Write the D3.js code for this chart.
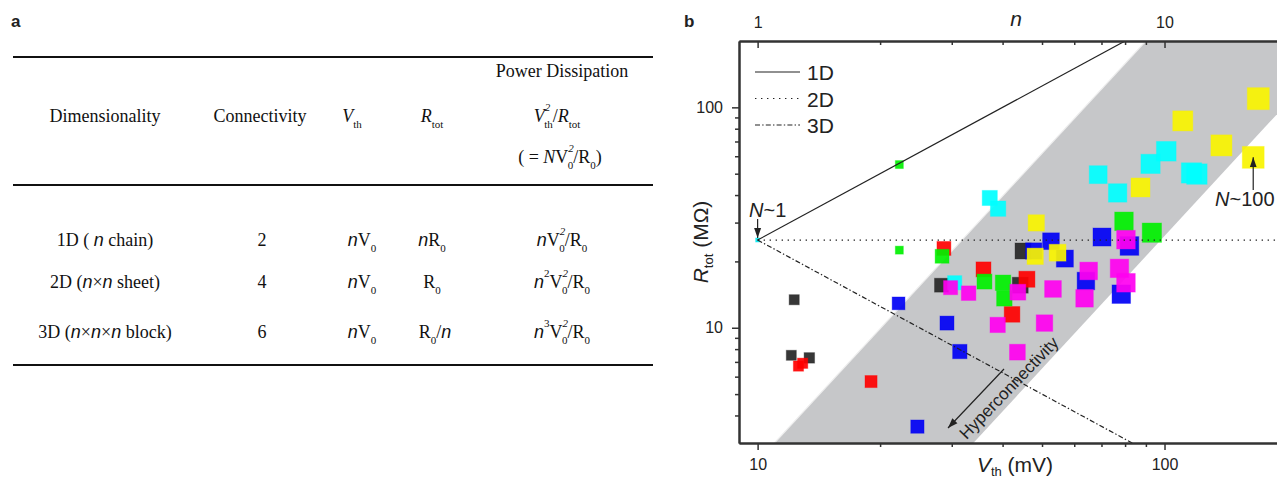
<!DOCTYPE html>
<html>
<head>
<meta charset="utf-8">
<script src="https://cdn.jsdelivr.net/npm/d3@7"></script>
<style>
  body { margin: 0; background: #fff; }
  svg { display: block; }
  .tbl text { font-family: "Liberation Serif", "Times New Roman", serif; font-size: 18px; fill: #111; }
  .ax text { font-family: "Liberation Sans", Arial, sans-serif; font-size: 16px; fill: #222; }
  .lbl { font-family: "Liberation Sans", Arial, sans-serif; fill: #222; }
</style>
</head>
<body>
<svg id="fig" width="1277" height="481"></svg>
<script>
// ---- data (V_th in mV, R_tot in MOhm) ----
const blackPts   = [[12.3, 13.4], [12.1, 7.5], [13.4, 7.3], [28.3, 15.6], [44.2, 15.6], [44.9, 22.3]];
const redPts     = [[12.6, 6.7], [12.9, 6.9], [19.0, 5.7], [28.7, 22.9], [35.9, 18.4], [45.9, 16.6], [42.2, 11.5]];
const greenPts   = [[28.4, 21.1], [36.1, 16.2], [40.1, 16.0], [40.4, 13.6], [79.5, 30.4], [93.1, 27.0]];
const greenSmall = [[22.3, 55.0], [22.3, 22.5]];
const bluePts    = [[22.2, 12.9], [29.2, 10.5], [31.4, 7.8], [24.7, 3.56], [47.7, 22.3], [52.6, 24.7],
                    [56.9, 20.6], [70.2, 25.8], [82.0, 23.5], [64.1, 16.3], [78.3, 14.2]];
const cyanPts    = [[37.2, 38.8], [39.0, 34.7], [30.5, 16.0], [68.7, 49.5], [76.7, 40.9], [92.4, 55.4],
                    [101, 63.2], [116.5, 50.4], [120.1, 49.8]];
const cyanSmall  = [[10, 25]];
const yellowPts  = [[48.4, 29.9], [48.1, 21.1], [54.6, 21.9], [87.3, 43.3], [110.9, 86.8], [138, 67.2],
                    [170, 109.5], [165.2, 59.3]];
const magentaPts = [[29.8, 15.2], [33.0, 14.35], [38.9, 10.3], [43.5, 7.75], [43.6, 14.5], [50.7, 10.5],
                    [53.2, 15.0], [63.6, 13.6], [65.1, 18.1], [77.5, 18.6], [80.4, 16.0], [80.4, 25.1]];

// scaling lines from the N~1 point
const line1D = [[10, 25], [80, 200]];
const line2D = [[10, 25], [200, 25]];
const line3D = [[10, 25], [83.3, 3]];
// grey band (R ~ V^2)
const band = [[11.0, 3], [90, 200], [277, 200], [33.9, 3]];

const xMajor = [10, 100], xMinor = [20, 30, 40, 50, 60, 70, 80, 90];
const yMajor = [10, 100], yMinor = [4, 5, 6, 7, 8, 9, 20, 30, 40, 50, 60, 70, 80, 90];
const nMajor = [1, 10], nMinor = [2, 3, 4, 5, 6, 7, 8, 9];
const legendItems = ["1D", "2D", "3D"];

const svg = d3.select("#fig");

// ---------------- panel a : table ----------------
svg.append("text").attr("x", 11).attr("y", 27).text("a")
    .attr("class", "lbl").attr("font-weight", "bold").attr("font-size", 17);

const tbl = svg.append("g").attr("class", "tbl");
[57, 185, 365].forEach(y => {
    tbl.append("line").attr("x1", 13).attr("x2", 653).attr("y1", y).attr("y2", y)
        .attr("stroke", "#111").attr("stroke-width", 2);
});

// rich text: segments {t, i (italic), sans, sub, sup, dx}
function rich(g, x, y, segs) {
    const t = g.append("text").attr("x", x).attr("y", y).attr("text-anchor", "middle");
    let cur = 0;
    segs.forEach(s => {
        const off = s.sub ? 6 : s.sup ? -11 : 0;
        const ts = t.append("tspan").text(s.t).attr("dy", off - cur);
        cur = off;
        if (s.sub || s.sup) ts.attr("font-size", 11);
        if (s.i) ts.attr("font-style", "italic");
        if (s.sans) ts.style("font-family", "'Liberation Sans', Arial, sans-serif");
        if (s.dx) ts.attr("dx", s.dx);
    });
    return t;
}
const nn = {t: "n", i: true, sans: true};

rich(tbl, 562, 77, [{t: "Power Dissipation"}]);
rich(tbl, 105, 122, [{t: "Dimensionality"}]);
rich(tbl, 260, 122, [{t: "Connectivity"}]);
rich(tbl, 352, 122, [{t: "V", i: true}, {t: "th", sub: true}]);
rich(tbl, 432, 122, [{t: "R", i: true}, {t: "tot", sub: true}]);
rich(tbl, 557, 122, [{t: "V", i: true}, {t: "2", sup: true, i: true}, {t: "th", sub: true, dx: -6},
    {t: "/"}, {t: "R", i: true}, {t: "tot", sub: true}]);
rich(tbl, 560, 163, [{t: "( = "}, {t: "N", i: true}, {t: "V"}, {t: "2", sup: true, i: true},
    {t: "0", sub: true, dx: -6}, {t: "/R"}, {t: "0", sub: true}, {t: ")"}]);

const rowY = [246, 288, 338];
rich(tbl, 105, rowY[0], [{t: "1D ( "}, nn, {t: " chain)"}]);
rich(tbl, 105, rowY[1], [{t: "2D ("}, nn, {t: "×"}, nn, {t: "  sheet)"}]);
rich(tbl, 105, rowY[2], [{t: "3D ("}, nn, {t: "×"}, nn, {t: "×"}, nn, {t: " block)"}]);
["2", "4", "6"].forEach((c, i) => rich(tbl, 262, rowY[i], [{t: c}]));
rowY.forEach(y => rich(tbl, 362, y, [nn, {t: "V"}, {t: "0", sub: true}]));
rich(tbl, 432, rowY[0], [nn, {t: "R"}, {t: "0", sub: true}]);
rich(tbl, 432, rowY[1], [{t: "R"}, {t: "0", sub: true}]);
rich(tbl, 435, rowY[2], [{t: "R"}, {t: "0", sub: true}, {t: "/"}, nn]);
const pw = [{t: "V"}, {t: "2", sup: true, i: true}, {t: "0", sub: true, dx: -6}, {t: "/R"}, {t: "0", sub: true}];
rich(tbl, 562, rowY[0], [nn].concat(pw));
rich(tbl, 562, rowY[1], [nn, {t: "2", sup: true}].concat(pw));
rich(tbl, 562, rowY[2], [nn, {t: "3", sup: true}].concat(pw));

// ---------------- panel b : scatter ----------------
svg.append("text").attr("x", 684).attr("y", 27).text("b")
    .attr("class", "lbl").attr("font-weight", "bold").attr("font-size", 17);

const L = 739, R = 1287, T = 41, B = 443;
const x = d3.scaleLog().domain([9, 200]).range([L, R]);
const y = d3.scaleLog().domain([3, 200]).range([B, T]);
const xn = d3.scaleLog().domain([0.9, 20]).range([L, R]);
const size = d3.scaleLog().domain([12, 170]).range([10, 22]).clamp(true);

svg.append("clipPath").attr("id", "plotClip")
    .append("rect").attr("x", L).attr("y", T).attr("width", R - L).attr("height", B - T);
const plot = svg.append("g").attr("clip-path", "url(#plotClip)");

const path = d3.line().x(d => x(d[0])).y(d => y(d[1]));

plot.append("path").datum(band).attr("d", path(band) + "Z")
    .attr("fill", "#c6c7c9");
plot.append("path").datum(band.slice(0, 2)).attr("d", path)
    .attr("stroke", "#eeeeee").attr("stroke-width", 1.2).attr("fill", "none");

// squares, back to front
const series = [
    {pts: blackPts, color: "#262626"},
    {pts: redPts, color: "#ff0000"},
    {pts: greenPts, color: "#00f000"},
    {pts: greenSmall, color: "#00f000", s: 8},
    {pts: bluePts, color: "#0000f5"},
    {pts: cyanPts, color: "#00ffff"},
    {pts: cyanSmall, color: "#00e8f0", s: 4},
    {pts: yellowPts, color: "#f8f400"},
    {pts: magentaPts, color: "#ff00f0"}
];
series.forEach(sr => {
    plot.append("g").selectAll("rect").data(sr.pts).enter().append("rect")
        .attr("x", d => x(d[0]) - (sr.s || size(d[0])) / 2)
        .attr("y", d => y(d[1]) - (sr.s || size(d[0])) / 2)
        .attr("width", d => sr.s || size(d[0]))
        .attr("height", d => sr.s || size(d[0]))
        .attr("fill", sr.color).attr("fill-opacity", 0.92)
        .attr("stroke", sr.color).attr("stroke-opacity", 0.35).attr("stroke-width", 1);
});

const dashes = ["none", "1.4,4.6", "5,2.2,1.4,2.2"];
[line1D, line2D, line3D].forEach((ln, i) => {
    plot.append("path").datum(ln).attr("d", path)
        .attr("fill", "none").attr("stroke", "#222").attr("stroke-width", 1.2)
        .attr("stroke-dasharray", dashes[i]);
});

// axes
function styleAxis(g) {
    g.selectAll(".domain").attr("stroke", "#333").attr("stroke-width", 2);
    g.selectAll(".tick line").attr("stroke", "#333").attr("stroke-width", 1.5);
    g.selectAll("text").attr("font-family", null).attr("font-size", null);
}
const fmt = d3.format("d");
const axes = svg.append("g").attr("class", "ax");
axes.append("g").attr("transform", `translate(0,${B})`)
    .call(d3.axisBottom(x).tickValues(xMinor).tickSize(4).tickFormat("").tickSizeOuter(0)).call(styleAxis);
axes.append("g").attr("transform", `translate(0,${B})`)
    .call(d3.axisBottom(x).tickValues(xMajor).tickSize(7).tickPadding(9).tickFormat(fmt).tickSizeOuter(0)).call(styleAxis);
axes.append("g").attr("transform", `translate(${L},0)`)
    .call(d3.axisLeft(y).tickValues(yMinor).tickSize(4).tickFormat("").tickSizeOuter(0)).call(styleAxis);
axes.append("g").attr("transform", `translate(${L},0)`)
    .call(d3.axisLeft(y).tickValues(yMajor).tickSize(7).tickPadding(9).tickFormat(fmt).tickSizeOuter(0)).call(styleAxis);
axes.append("g").attr("transform", `translate(0,${T})`)
    .call(d3.axisTop(xn).tickValues(nMinor).tickSize(-4).tickFormat("").tickSizeOuter(0)).call(styleAxis);
axes.append("g").attr("transform", `translate(0,${T})`)
    .call(d3.axisTop(xn).tickValues(nMajor).tickSize(-7).tickPadding(13).tickFormat(fmt).tickSizeOuter(0)).call(styleAxis);

// axis titles
const ttl = svg.append("g").attr("class", "lbl").attr("font-size", 21);
const xt = ttl.append("text").attr("x", 1015).attr("y", 472).attr("text-anchor", "middle");
xt.append("tspan").text("V").attr("font-style", "italic");
xt.append("tspan").text("th").attr("font-size", 13).attr("dy", 4);
xt.append("tspan").text(" (mV)").attr("dy", -4);
const yt = ttl.append("text").attr("transform", "translate(708,242) rotate(-90)").attr("text-anchor", "middle");
yt.append("tspan").text("R").attr("font-style", "italic");
yt.append("tspan").text("tot").attr("font-size", 13).attr("dy", 5);
yt.append("tspan").text(" (MΩ)").attr("dy", -5);
ttl.append("text").attr("x", 1016).attr("y", 26).attr("text-anchor", "middle")
    .attr("font-style", "italic").text("n");

// legend
const lg = svg.append("g").attr("class", "lbl");
legendItems.forEach((name, i) => {
    const ly = 72 + i * 26.5;
    lg.append("line").attr("x1", 755).attr("x2", 800).attr("y1", ly).attr("y2", ly)
        .attr("stroke", "#222").attr("stroke-width", 1.2).attr("stroke-dasharray", dashes[i]);
    lg.append("text").attr("x", 807).attr("y", ly + 8).attr("font-size", 21).text(name);
});

// annotations
svg.append("defs").append("marker").attr("id", "ah").attr("viewBox", "0 0 10 10")
    .attr("refX", 10).attr("refY", 5).attr("markerWidth", 10).attr("markerHeight", 10)
    .attr("markerUnits", "userSpaceOnUse").attr("orient", "auto")
    .append("path").attr("d", "M0,1.5L10,5L0,8.5Z").attr("fill", "#222");

const ann = svg.append("g").attr("class", "lbl").attr("font-size", 20);
const n1 = ann.append("text").attr("x", 749).attr("y", 217);
n1.append("tspan").text("N").attr("font-style", "italic");
n1.append("tspan").text("~1");
ann.append("line").attr("x1", x(10)).attr("x2", x(10)).attr("y1", 219).attr("y2", y(25) - 2)
    .attr("stroke", "#222").attr("stroke-width", 1.2).attr("marker-end", "url(#ah)");

const n100 = ann.append("text").attr("x", 1215).attr("y", 206);
n100.append("tspan").text("N").attr("font-style", "italic");
n100.append("tspan").text("~100");
ann.append("line").attr("x1", x(165.2)).attr("x2", x(165.2)).attr("y1", 190).attr("y2", y(59.3))
    .attr("stroke", "#222").attr("stroke-width", 1.2).attr("marker-end", "url(#ah)");

ann.append("text").attr("transform", "translate(1013,392) rotate(-46)")
    .attr("text-anchor", "middle").attr("font-size", 17).text("Hyperconnectivity");
ann.append("line").attr("x1", 1004).attr("y1", 369).attr("x2", 948).attr("y2", 428)
    .attr("stroke", "#222").attr("stroke-width", 1.2).attr("marker-end", "url(#ah)");
</script>
</body>
</html>
